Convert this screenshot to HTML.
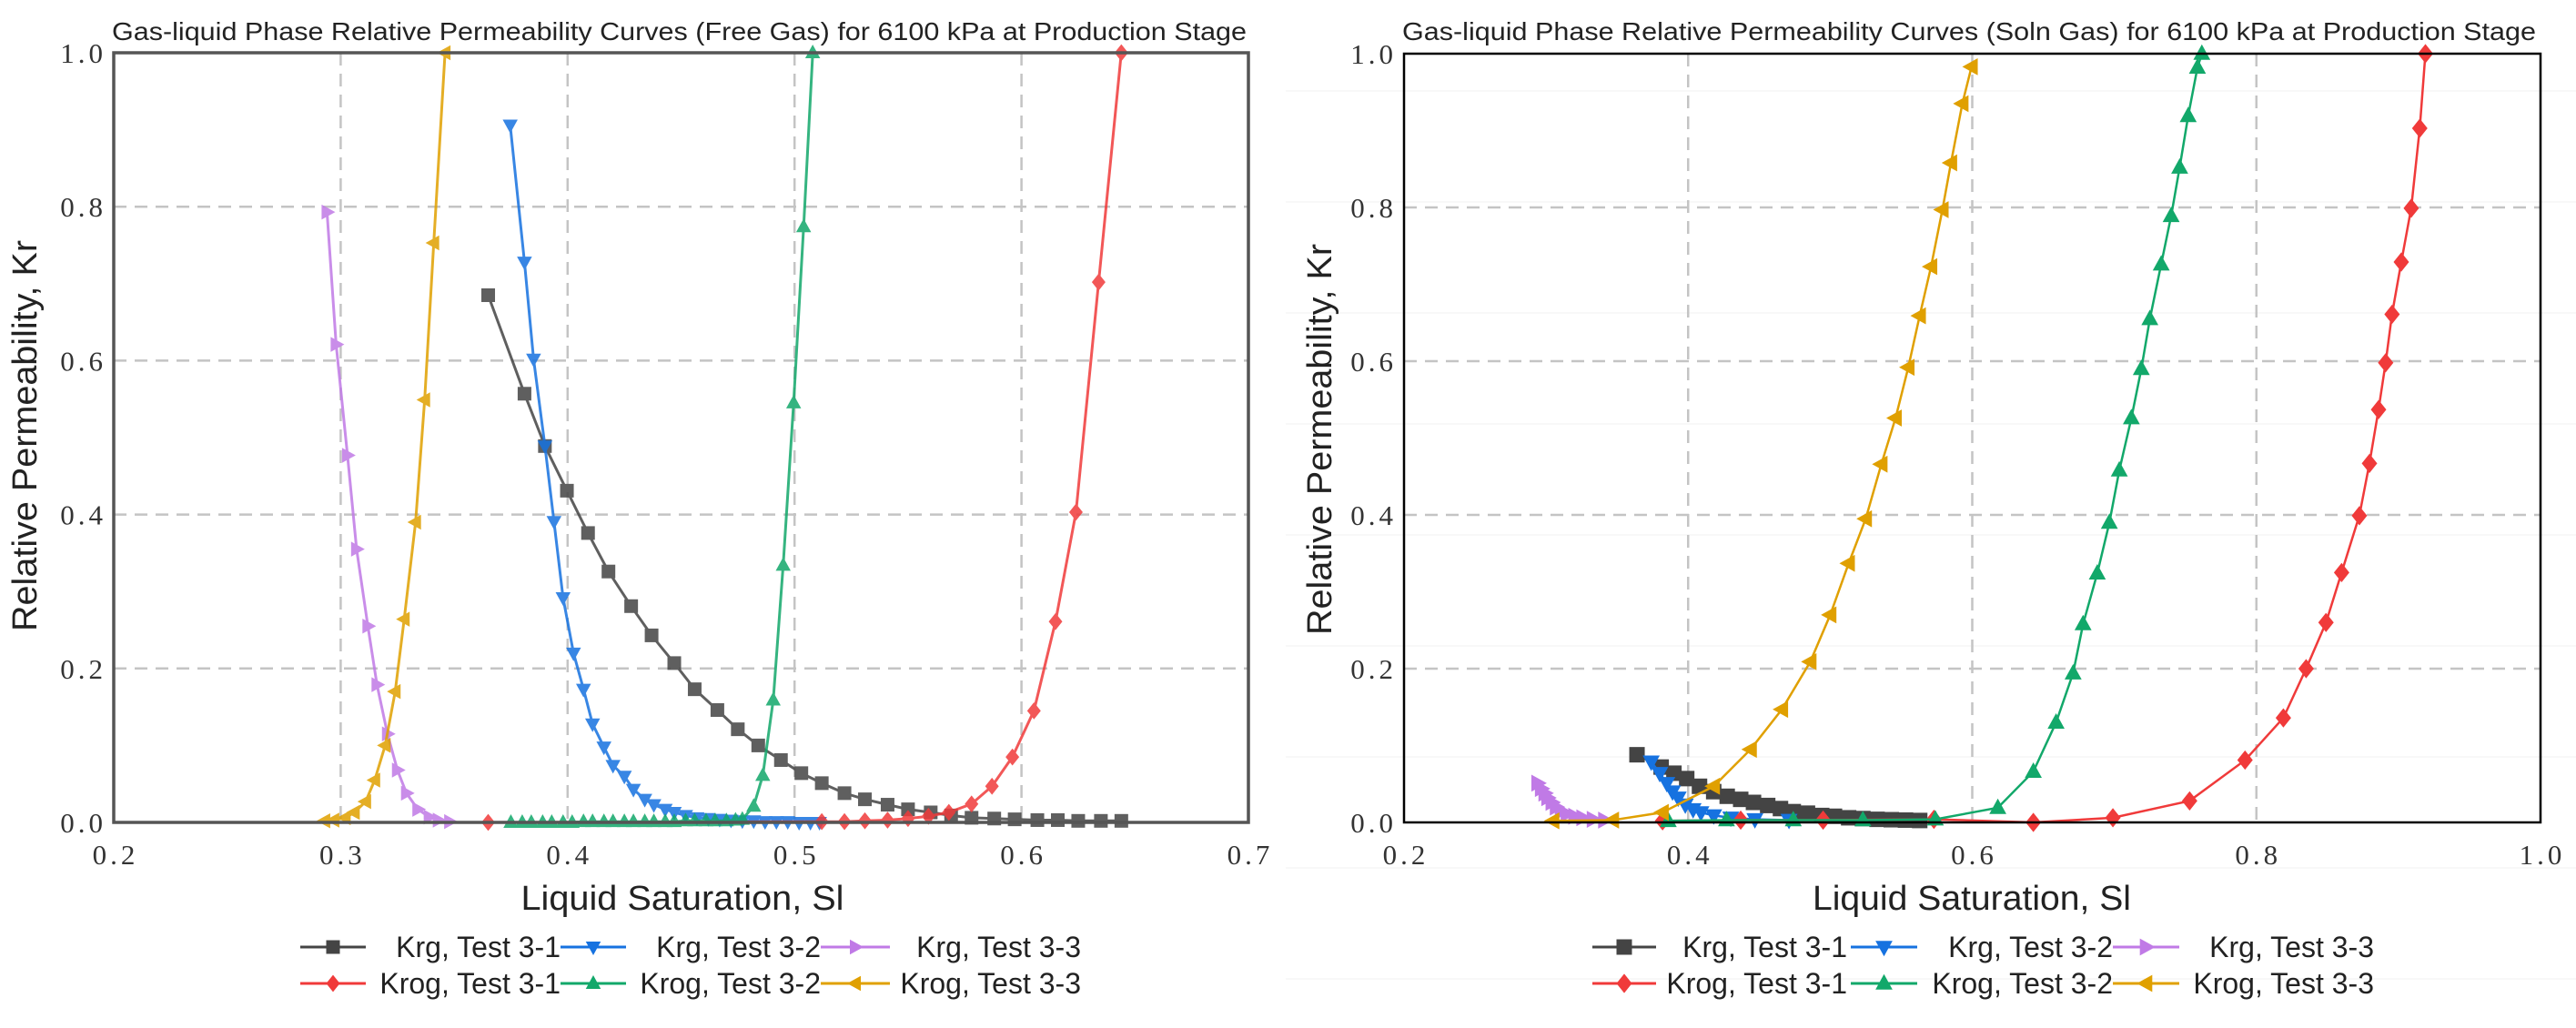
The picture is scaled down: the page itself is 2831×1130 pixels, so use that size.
<!DOCTYPE html>
<html><head><meta charset="utf-8">
<style>
html,body{margin:0;padding:0;background:#fff;}
svg{display:block;}
text{font-family:"Liberation Sans",sans-serif;}
.tick{font-family:"Liberation Serif",serif;font-size:31px;fill:#333;letter-spacing:4px;}
</style></head>
<body>
<svg id="root" width="2831" height="1130" viewBox="0 0 2831 1130" xmlns="http://www.w3.org/2000/svg"></svg>
<script>
// ---------- Left chart data (Free Gas) ----------
const L_krg31_x=[0.365,0.381,0.390,0.3997,0.409,0.418,0.428,0.437,0.447,0.456,0.466,0.475,0.484,0.494,0.503,0.512,0.522,0.531,0.541,0.550,0.560,0.569,0.578,0.588,0.597,0.607,0.616,0.625,0.635,0.644];
const L_krg31_y=[0.685,0.557,0.489,0.431,0.376,0.326,0.281,0.243,0.207,0.173,0.146,0.121,0.100,0.081,0.064,0.051,0.038,0.030,0.023,0.017,0.013,0.009,0.006,0.005,0.004,0.003,0.003,0.002,0.002,0.002];
const L_krg32_x=[0.3747,0.381,0.385,0.390,0.394,0.398,0.4026,0.407,0.411,0.416,0.420,0.425,0.429,0.434,0.438,0.443,0.447,0.452,0.457,0.462,0.467,0.472,0.477,0.482,0.487,0.492,0.497,0.502,0.507,0.511];
const L_krg32_y=[0.906,0.728,0.602,0.489,0.391,0.292,0.220,0.173,0.128,0.098,0.074,0.060,0.043,0.030,0.023,0.017,0.013,0.009,0.006,0.005,0.004,0.003,0.002,0.002,0.001,0.001,0.001,0.0,0.0,0.0];
const L_krg33_x=[0.294,0.298,0.303,0.307,0.312,0.316,0.3206,0.325,0.329,0.334,0.339,0.343,0.348];
const L_krg33_y=[0.793,0.621,0.477,0.355,0.255,0.179,0.115,0.068,0.038,0.017,0.007,0.003,0.001];
const L_krog31_x=[0.365,0.512,0.522,0.531,0.541,0.550,0.559,0.568,0.578,0.587,0.596,0.6055,0.615,0.624,0.634,0.644];
const L_krog31_y=[0.0,0.001,0.001,0.002,0.003,0.005,0.008,0.013,0.024,0.047,0.085,0.145,0.261,0.403,0.702,1.0];
const L_krog32_x=[0.375,0.380,0.384,0.389,0.393,0.398,0.402,0.407,0.411,0.416,0.420,0.425,0.429,0.434,0.438,0.443,0.447,0.452,0.456,0.461,0.465,0.470,0.474,0.477,0.482,0.486,0.4906,0.495,0.4996,0.504,0.508];
const L_krog32_y=[0.0,0.0,0.0,0.0,0.0,0.0,0.0,0.001,0.001,0.001,0.001,0.001,0.001,0.001,0.001,0.001,0.001,0.002,0.002,0.002,0.002,0.002,0.003,0.004,0.021,0.061,0.159,0.334,0.545,0.774,1.0];
const L_krog33_x=[0.293,0.297,0.302,0.306,0.311,0.315,0.3196,0.324,0.328,0.333,0.337,0.341,0.346];
const L_krog33_y=[0.002,0.003,0.006,0.013,0.027,0.055,0.100,0.170,0.264,0.390,0.549,0.753,1.0];
// ---------- Right chart data (Soln Gas) ----------
const R_krg31_x=[0.364,0.381,0.390,0.399,0.408,0.418,0.4275,0.437,0.446,0.456,0.465,0.474,0.484,0.494,0.503,0.513,0.523,0.533,0.543,0.553,0.563];
const R_krg31_y=[0.088,0.072,0.064,0.057,0.047,0.040,0.034,0.030,0.026,0.022,0.018,0.014,0.012,0.009,0.008,0.006,0.005,0.004,0.0035,0.003,0.0025];
const R_krg32_x=[0.374,0.380,0.385,0.389,0.393,0.398,0.4035,0.409,0.418,0.430,0.447,0.471];
const R_krg32_y=[0.079,0.064,0.051,0.040,0.032,0.023,0.017,0.013,0.009,0.006,0.004,0.003];
const R_krg33_x=[0.294,0.2965,0.299,0.301,0.304,0.307,0.3105,0.3146,0.320,0.3257,0.333,0.341];
const R_krg33_y=[0.051,0.044,0.038,0.032,0.026,0.020,0.014,0.011,0.008,0.006,0.004,0.003];
const R_krog31_x=[0.382,0.437,0.495,0.573,0.643,0.699,0.753,0.792,0.819,0.835,0.849,0.860,0.8725,0.8796,0.886,0.891,0.8955,0.902,0.909,0.915,0.919];
const R_krog31_y=[0.002,0.003,0.003,0.004,0.0,0.006,0.028,0.081,0.136,0.200,0.260,0.325,0.399,0.467,0.537,0.598,0.661,0.729,0.799,0.903,1.0];
const R_krog32_x=[0.386,0.427,0.474,0.523,0.574,0.618,0.643,0.659,0.671,0.678,0.688,0.6965,0.7035,0.712,0.719,0.725,0.733,0.740,0.746,0.752,0.7585,0.7616];
const R_krog32_y=[0.002,0.003,0.003,0.003,0.004,0.019,0.066,0.130,0.194,0.258,0.324,0.390,0.458,0.526,0.590,0.655,0.726,0.789,0.852,0.919,0.982,1.0];
const R_krog33_x=[0.305,0.347,0.382,0.418,0.444,0.466,0.486,0.500,0.513,0.525,0.536,0.546,0.555,0.563,0.571,0.579,0.585,0.593,0.5995];
const R_krog33_y=[0.002,0.003,0.013,0.047,0.095,0.147,0.209,0.270,0.337,0.395,0.466,0.526,0.592,0.659,0.723,0.797,0.858,0.935,0.983];
// ---------- Axis tick arrays ----------
const L_xticks=[0.2,0.3,0.4,0.5,0.6,0.7];
const R_xticks=[0.2,0.4,0.6,0.8,1.0];
const yticks=[0.0,0.2,0.4,0.6,0.8,1.0];
const seriesNames=["Krg, Test 3-1","Krg, Test 3-2","Krg, Test 3-3","Krog, Test 3-1","Krog, Test 3-2","Krog, Test 3-3"];

const NS="http://www.w3.org/2000/svg";
const root=document.getElementById('root');
function mk(tag,attrs,parent){const e=document.createElementNS(NS,tag);for(const k in attrs)e.setAttribute(k,attrs[k]);(parent||root).appendChild(e);return e;}

const colors=["#444444","#1672e0","#c07ae6","#f03a3a","#12a86a","#e0a000"];
const shapes=["square","down","right","diamond","up","left"];
function marker(g,shape,cx,cy,s,color){
  let pts;
  if(shape==="square"){const e=mk('rect',{x:cx-s,y:cy-s,width:2*s,height:2*s,fill:color},g);return e;}
  if(shape==="diamond")pts=[[cx,cy-s*1.25],[cx+s,cy],[cx,cy+s*1.25],[cx-s,cy]];
  if(shape==="up")pts=[[cx,cy-s*1.2],[cx+s*1.1,cy+s*0.8],[cx-s*1.1,cy+s*0.8]];
  if(shape==="down")pts=[[cx,cy+s*1.2],[cx+s*1.1,cy-s*0.8],[cx-s*1.1,cy-s*0.8]];
  if(shape==="right")pts=[[cx+s*1.2,cy],[cx-s*0.8,cy-s*1.1],[cx-s*0.8,cy+s*1.1]];
  if(shape==="left")pts=[[cx-s*1.2,cy],[cx+s*0.8,cy-s*1.1],[cx+s*0.8,cy+s*1.1]];
  return mk('polygon',{points:pts.map(p=>p.join(',')).join(' '),fill:color},g);
}

function drawChart(c){
  const g=mk('g',{});
  
  
  const sx=v=>c.x0+(v-c.xmin)/(c.xmax-c.xmin)*(c.x1-c.x0);
  const sy=v=>c.y1-(v-0)/(1-0)*(c.y1-c.y0);
  if(c.faint){for(let yy=100;yy<1130;yy+=122){mk('line',{x1:c.x0-130,x2:2831,y1:yy,y2:yy,stroke:'#f0f0f0','stroke-width':1},g);}}
  c.xticks.forEach(v=>{if(v>c.xmin&&v<c.xmax){const l=mk('line',{x1:sx(v),x2:sx(v),y1:c.y0,y2:c.y1,stroke:'#c4c4c4','stroke-width':2.5,'stroke-dasharray':'14,9'},g);}});
  yticks.forEach(v=>{if(v>0&&v<1){const l=mk('line',{x1:c.x0,x2:c.x1,y1:sy(v),y2:sy(v),stroke:'#c4c4c4','stroke-width':2.5,'stroke-dasharray':'14,9'},g);}});
  c.series.forEach((s,i)=>{
    const sg=mk('g',{opacity:c.op},g);
    
    
    const d=s[0].map((x,j)=>(j?'L':'M')+sx(x).toFixed(1)+','+sy(s[1][j]).toFixed(1)).join(' ');
    mk('path',{d:d,fill:'none',stroke:colors[i],'stroke-width':c.lw},sg);
    s[0].forEach((x,j)=>{const m=marker(sg,shapes[i],sx(x),sy(s[1][j]),c.ms,colors[i]);
      
      });
  });
  const f=mk('rect',{x:c.x0,y:c.y0,width:c.x1-c.x0,height:c.y1-c.y0,fill:'none',stroke:c.frame,'stroke-width':c.fw},g);
  
  c.xticks.forEach(v=>{const t=mk('text',{x:sx(v)+2,y:c.y1+46,'text-anchor':'middle',class:'tick'},g);t.textContent=v.toFixed(1);
    });
  yticks.forEach(v=>{const t=mk('text',{x:c.x0-8,y:sy(v)+11,'text-anchor':'end',class:'tick'},g);t.textContent=v.toFixed(1);
    });
  const tt=mk('text',{x:(c.tx0+c.tx1)/2,y:c.ty,'text-anchor':'middle','font-size':c.tfs,fill:'#222',textLength:c.tx1-c.tx0,lengthAdjust:'spacingAndGlyphs'},g);
  tt.textContent=c.title;
  const xt=mk('text',{x:c.xtc,y:1000,'text-anchor':'middle','font-size':38,fill:'#222',textLength:c.xtw,lengthAdjust:'spacingAndGlyphs'},g);
  xt.textContent='Liquid Saturation, Sl';
  const yt=mk('text',{x:0,y:0,'text-anchor':'middle','font-size':38,fill:'#222',transform:`translate(${c.ytx},${c.yty}) rotate(-90)`,textLength:c.ytw,lengthAdjust:'spacingAndGlyphs'},g);
  yt.textContent='Relative Permeability, Kr';
  const lg=mk('g',{},g);
  for(let i=0;i<6;i++){
    const row=Math.floor(i/3),col=i%3;
    const ly=row?1081:1041;
    const lx0=c.legLine[col][0],lx1=c.legLine[col][1];
    const e=mk('g',{},lg);
    mk('line',{x1:lx0,x2:lx1,y1:ly,y2:ly,stroke:colors[i],'stroke-width':3},e);
    marker(e,shapes[i],(lx0+lx1)/2,ly,c.ms,colors[i]);
    const t=mk('text',{x:c.legTextEnd[col],y:ly+11,'text-anchor':'end','font-size':32,fill:'#222'},e);t.textContent=seriesNames[i];
  }
}

drawChart({name:'free-gas-chart',x0:125,x1:1372,y0:58,y1:904,xmin:0.2,xmax:0.7,xticks:L_xticks,
  series:[[L_krg31_x,L_krg31_y],[L_krg32_x,L_krg32_y],[L_krg33_x,L_krg33_y],[L_krog31_x,L_krog31_y],[L_krog32_x,L_krog32_y],[L_krog33_x,L_krog33_y]],
  lw:3,ms:7.5,frame:'#555',fw:3.5,faint:false,op:0.85,
  title:'Gas-liquid Phase Relative Permeability Curves (Free Gas) for 6100 kPa at Production Stage',tx0:123,tx1:1370,ty:44,tfs:28,
  xtc:750,xtw:355,ytx:40,yty:479,ytw:430,
  legLine:[[330,402],[616,688],[902,978]],legTextEnd:[616,902,1188]});

drawChart({name:'soln-gas-chart',x0:1543,x1:2792,y0:59,y1:904,xmin:0.2,xmax:1.0,xticks:R_xticks,
  series:[[R_krg31_x,R_krg31_y],[R_krg32_x,R_krg32_y],[R_krg33_x,R_krg33_y],[R_krog31_x,R_krog31_y],[R_krog32_x,R_krog32_y],[R_krog33_x,R_krog33_y]],
  lw:2.5,ms:8.5,frame:'#000',fw:2.5,faint:true,op:1,
  title:'Gas-liquid Phase Relative Permeability Curves (Soln Gas) for 6100 kPa at Production Stage',tx0:1541,tx1:2787,ty:44,tfs:28,
  xtc:2167,xtw:350,ytx:1463,yty:483,ytw:430,
  legLine:[[1750,1820],[2034,2107],[2322,2395]],legTextEnd:[2030,2322,2609]});
</script>
</body></html>
